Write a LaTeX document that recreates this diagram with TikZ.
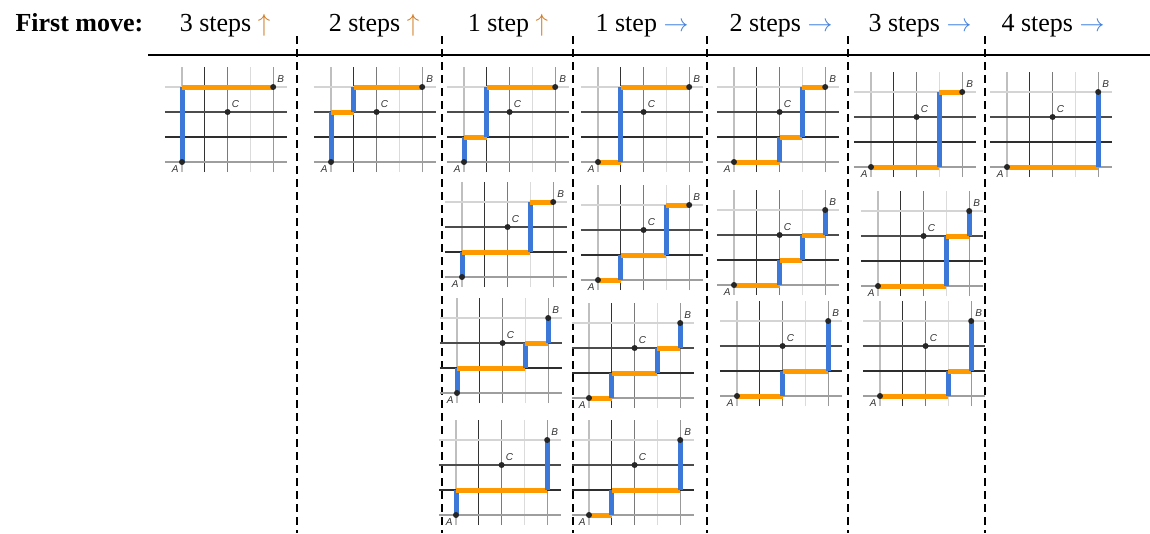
\documentclass[tikz,border=0pt]{standalone}
\usepackage{fontspec}
\setmainfont{Liberation Serif}
\setsansfont{Liberation Sans}
\usetikzlibrary{positioning}

\definecolor{runup}{HTML}{3C78D8}
\definecolor{runright}{HTML}{FF9900}
\definecolor{hdup}{HTML}{D07A22}
\definecolor{hdright}{HTML}{3F80E0}

\tikzset{
  upseg/.style={runup, line width=5pt},
  rtseg/.style={runright, line width=5pt},
  gridline/.style={line width=1.1pt},
  lattdot/.style={circle, fill=black!85, inner sep=0pt, minimum size=6pt},
  lattlbl/.style={font=\sffamily\itshape\fontsize{10}{11}\selectfont, text=black!80, inner sep=1pt},
  colhead/.style={anchor=base, font=\fontsize{26}{30}\selectfont},
  sep/.style={line width=1.8pt, dash pattern=on 8pt off 5pt},
}

\newcommand{\stepsup}{{\color{hdup}$\uparrow$}}
\newcommand{\stepsright}{{\color{hdright}$\rightarrow$}}

% #1 name, #2/#3 where A sits, #4 the runs of the path (x1/y1/x2/y2)
\newcommand{\lattice}[4]{%
\begin{scope}[shift={(#2,#3)}, x=22.8pt, y=25pt]
  \foreach \i/\gv in {0/25,1/80,2/52,3/14,4/40}
    \draw[gridline, black!\gv] (\i,-0.4) -- (\i,3.8);
  \foreach \j/\gv in {0/38,1/82,2/70,3/17}
    \draw[gridline, black!\gv] (-0.75,\j) -- (4.6,\j);
  \foreach \xa/\ya/\xb/\yb in {#4}{
    \ifx\xa\xb \draw[upseg] (\xa,\ya) -- (\xb,\yb);
    \else \draw[rtseg] (\xa,\ya) -- (\xb,\yb); \fi}
  \node[lattdot, label={[lattlbl]below left:A}] (#1-A) at (0,0) {};
  \node[lattdot, label={[lattlbl, label distance=1pt]above right:B}] (#1-B) at (4,3) {};
  \node[lattdot, label={[lattlbl, label distance=1pt]above right:C}] (#1-C) at (2,2) {};
\end{scope}}

\begin{document}
\begin{tikzpicture}[x=1pt, y=-1pt]
\useasboundingbox (0,0) rectangle (1150,533);

% header row
\node[colhead, anchor=base west, font=\bfseries\fontsize{26}{30}\selectfont] (first) at (12,31) {First move:};
\node[colhead] (up3) at (225,31) {3 steps \stepsup};
\node[colhead] (up2) at (374,31) {2 steps \stepsup};
\node[colhead] (up1) at (508,31) {1 step \stepsup};
\node[colhead] (rt1) at (642,31) {1 step \stepsright};
\node[colhead] (rt2) at (781,31) {2 steps \stepsright};
\node[colhead] (rt3) at (920,31) {3 steps \stepsright};
\node[colhead] (rt4) at (1053,31) {4 steps \stepsright};

\draw[line width=1.6pt] (148,55) -- (1150,55);
\foreach \x in {297,442,573,707,848,985}
  \draw[sep] (\x,36) -- (\x,533);

% first move up
\lattice{u3}{182}{162}{0/0/0/3, 0/3/4/3}
\lattice{u2}{331}{162}{0/0/0/2, 0/2/1/2, 1/2/1/3, 1/3/4/3}
\lattice{u1a}{464}{162}{0/0/0/1, 0/1/1/1, 1/1/1/3, 1/3/4/3}
\lattice{u1b}{462}{277}{0/0/0/1, 0/1/3/1, 3/1/3/3, 3/3/4/3}
\lattice{u1c}{457}{393}{0/0/0/1, 0/1/3/1, 3/1/3/2, 3/2/4/2, 4/2/4/3}
\lattice{u1d}{456}{515}{0/0/0/1, 0/1/4/1, 4/1/4/3}

% first move right
\lattice{r1a}{598}{162}{0/0/1/0, 1/0/1/3, 1/3/4/3}
\lattice{r1b}{598}{280}{0/0/1/0, 1/0/1/1, 1/1/3/1, 3/1/3/3, 3/3/4/3}
\lattice{r1c}{589}{398}{0/0/1/0, 1/0/1/1, 1/1/3/1, 3/1/3/2, 3/2/4/2, 4/2/4/3}
\lattice{r1d}{589}{515}{0/0/1/0, 1/0/1/1, 1/1/4/1, 4/1/4/3}
\lattice{r2a}{734}{162}{0/0/2/0, 2/0/2/1, 2/1/3/1, 3/1/3/3, 3/3/4/3}
\lattice{r2b}{734}{285}{0/0/2/0, 2/0/2/1, 2/1/3/1, 3/1/3/2, 3/2/4/2, 4/2/4/3}
\lattice{r2c}{737}{396}{0/0/2/0, 2/0/2/1, 2/1/4/1, 4/1/4/3}
\lattice{r3a}{871}{167}{0/0/3/0, 3/0/3/3, 3/3/4/3}
\lattice{r3b}{878}{286}{0/0/3/0, 3/0/3/2, 3/2/4/2, 4/2/4/3}
\lattice{r3c}{880}{396}{0/0/3/0, 3/0/3/1, 3/1/4/1, 4/1/4/3}
\lattice{r4}{1007}{167}{0/0/4/0, 4/0/4/3}

\end{tikzpicture}
\end{document}
